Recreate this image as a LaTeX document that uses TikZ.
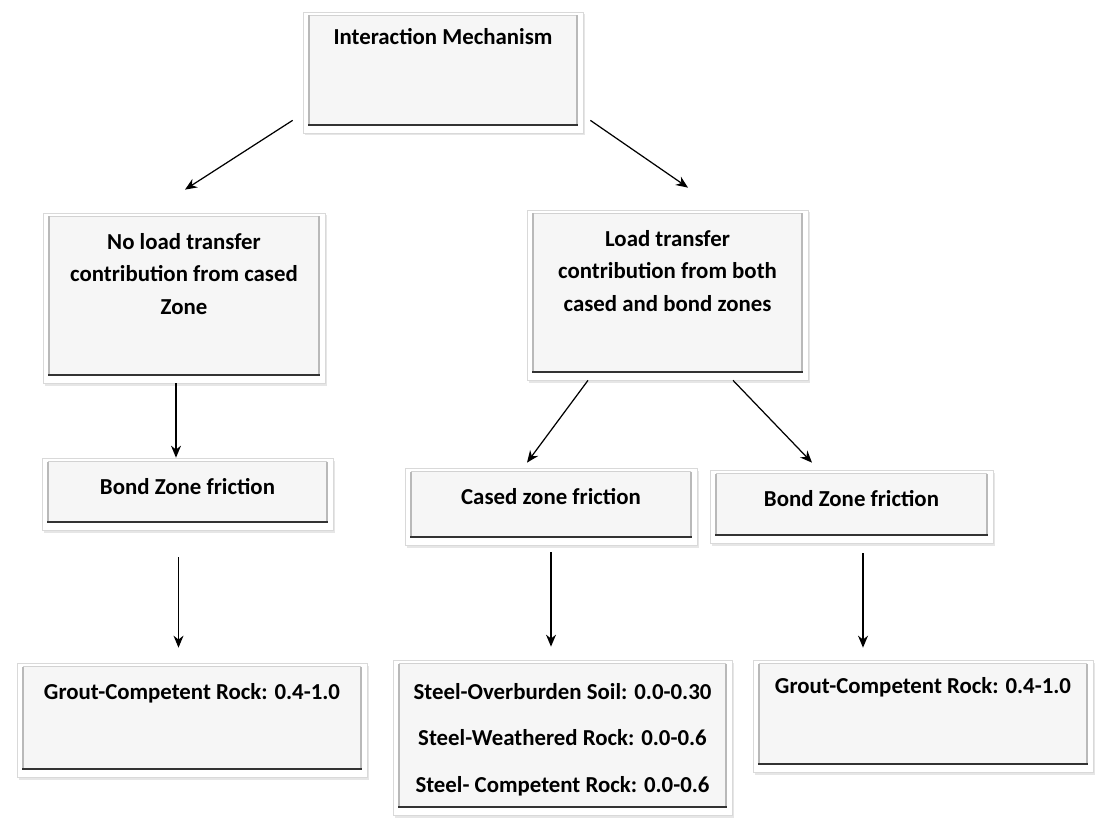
\documentclass[tikz,border=0pt]{standalone}
\usepackage{fontspec}
\setmainfont{Carlito}
\usetikzlibrary{arrows.meta, positioning, shadows}

\begin{document}
\begin{tikzpicture}[
  panel/.style={draw=gray!30, fill=white, line width=0.4pt, inner sep=0pt,
    drop shadow={opacity=0.2, shadow xshift=0.03cm, shadow yshift=-0.05cm},
    path picture={
      \fill[gray!7] ([shift={(0.12,-0.07)}]path picture bounding box.north west)
        rectangle ([shift={(-0.12,0.16)}]path picture bounding box.south east);
      \draw[gray!35, line width=0.6pt] ([shift={(0.12,-0.07)}]path picture bounding box.north west)
        -- ([shift={(-0.12,-0.07)}]path picture bounding box.north east);
      \draw[gray!55, line width=0.9pt] ([shift={(0.12,-0.07)}]path picture bounding box.north west)
        -- ([shift={(0.12,0.16)}]path picture bounding box.south west);
      \draw[gray!55, line width=0.9pt] ([shift={(-0.12,-0.07)}]path picture bounding box.north east)
        -- ([shift={(-0.12,0.16)}]path picture bounding box.south east);
      \draw[black!80, line width=1.3pt] ([shift={(0.1,0.16)}]path picture bounding box.south west)
        -- ([shift={(-0.1,0.16)}]path picture bounding box.south east);
    }},
  txt/.style={anchor=north, yshift=-0.4cm, inner sep=0pt, align=center,
    font=\fontsize{13}{18.5}\selectfont\bfseries},
  arrow/.style={line width=0.7pt, -{Stealth[length=2.4mm, width=2mm]}}
]
  \useasboundingbox (0,0) rectangle (21.92,16.36);

  % first level
  \node (mech) [panel, minimum width=5.6cm, minimum height=2.42cm,
    label={[txt, yshift=0.08cm]north:Interaction Mechanism}] at (8.86,14.91) {};

  % second level
  \node (noload) [panel, minimum width=5.64cm, minimum height=3.4cm,
    label={[txt]north:{No load transfer\\contribution from cased\\Zone}}] at (3.68,10.40) {};
  \node (both) [panel, minimum width=5.62cm, minimum height=3.4cm,
    label={[txt]north:{Load transfer\\contribution from both\\cased and bond zones}}] at (13.35,10.46) {};

  % friction zones
  \node (bondL) [panel, minimum width=5.82cm, minimum height=1.44cm,
    label={[txt]north:Bond Zone friction}] at (3.75,6.48) {};
  \node (cased) [panel, minimum width=5.84cm, minimum height=1.54cm,
    label={[txt]north:Cased zone friction}] at (11.02,6.23) {};
  \node (bondR) [panel, minimum width=5.66cm, minimum height=1.46cm,
    label={[txt]north:Bond Zone friction}] at (17.03,6.23) {};

  % friction coefficients
  \node (groutL) [panel, minimum width=7.0cm, minimum height=2.28cm,
    label={[txt]north:Grout-Competent Rock: 0.4-1.0}] at (3.84,1.96) {};
  \node (steel) [panel, minimum width=6.78cm, minimum height=3.1cm,
    label={[txt, yshift=-0.06cm]north:{Steel-Overburden Soil: 0.0-0.30\\[8pt]Steel-Weathered Rock: 0.0-0.6\\[8pt]Steel- Competent Rock: 0.0-0.6}}] at (11.25,1.61) {};
  \node (groutR) [panel, minimum width=6.8cm, minimum height=2.24cm,
    label={[txt, yshift=0.06cm]north:Grout-Competent Rock: 0.4-1.0}] at (18.46,2.04) {};

  \draw [arrow] ([shift={(-0.2,0.26)}]mech.south west) -- ([shift={(0.02,0.46)}]noload.north);
  \draw [arrow] ([shift={(0.14,0.26)}]mech.south east) -- ([shift={(0.41,0.44)}]both.north);
  \draw [arrow] ([xshift=-0.16cm]noload.south) -- ([xshift=-0.16cm]noload.south |- bondL.north);
  \draw [arrow, shorten <=0.54cm, shorten >=0.3cm] ([xshift=-0.18cm]bondL.south) -- ([xshift=-0.18cm]bondL.south |- groutL.north);
  \draw [arrow] ([xshift=-1.59cm]both.south) -- ([shift={(-0.48,0.1)}]cased.north);
  \draw [arrow] ([xshift=1.31cm]both.south) -- ([shift={(-0.79,0.14)}]bondR.north);
  \draw [arrow, shorten <=0.14cm, shorten >=0.26cm] (cased.south) -- (cased.south |- steel.north);
  \draw [arrow, shorten <=0.2cm, shorten >=0.24cm] ([xshift=0.23cm]bondR.south) -- ([xshift=0.23cm]bondR.south |- groutR.north);
\end{tikzpicture}
\end{document}
